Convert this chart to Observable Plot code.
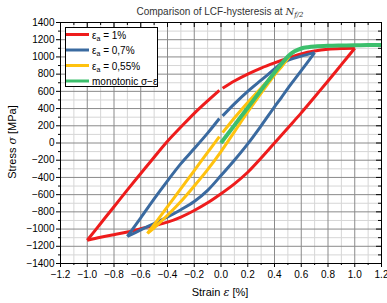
<!DOCTYPE html>
<html><head><meta charset="utf-8">
<script src="https://cdn.jsdelivr.net/npm/d3@7"></script>
<script src="https://cdn.jsdelivr.net/npm/@observablehq/plot@0.6"></script>
<style>
body{margin:0;background:#fff;}
#wrap{position:relative;width:387px;height:303px;}
</style></head><body><div id="wrap"></div>
<script>
// ---- tick values ----
const strainTicks = [-1.2,-1.0,-0.8,-0.6,-0.4,-0.2,0.0,0.2,0.4,0.6,0.8,1.0,1.2];
const strainMinor = [-1.1,-0.9,-0.7,-0.5,-0.3,-0.1,0.1,0.3,0.5,0.7,0.9,1.1];
const stressTicks = [-1400,-1200,-1000,-800,-600,-400,-200,0,200,400,600,800,1000,1200,1400];
const stressMinor = [-1300,-1100,-900,-700,-500,-300,-100,100,300,500,700,900,1100,1300];

// ---- series: eps_a = 1% ----
const red1DownStrain = [1.0,0.9,0.8,0.7,0.6,0.5,0.4,0.3,0.2,0.1,0.0,-0.1,-0.2,-0.3,-0.4,-0.5,-0.6,-0.7,-0.8,-0.9,-1.0];
const red1DownStress = [1100,910,720,535,350,175,0,-175,-340,-475,-590,-695,-784,-860,-920,-960,-995,-1035,-1065,-1095,-1130];
const red1UpStrain = [-1.0,-0.9,-0.8,-0.7,-0.6,-0.5,-0.4,-0.3,-0.2,-0.1,-0.012,0.0,0.012,0.1,0.2,0.3,0.4,0.5,0.6,0.7,0.8,0.9,1.0];
const red1UpStress = [-1130,-935,-740,-545,-355,-165,20,185,345,490,612,null,635,720,800,870,930,985,1035,1068,1088,1097,1100];

// ---- series: eps_a = 0,7% ----
const blueDownStrain = [0.7,0.6,0.5,0.45,0.4,0.3,0.2,0.1,0.0,-0.1,-0.2,-0.3,-0.4,-0.5,-0.6,-0.7];
const blueDownStress = [1050,840,635,525,420,200,-10,-200,-378,-550,-680,-775,-860,-935,-1010,-1085];
const blueUpStrain = [-0.7,-0.6,-0.5,-0.4,-0.3,-0.2,-0.1,-0.012,0.0,0.012,0.1,0.2,0.3,0.4,0.45,0.5,0.6,0.7];
const blueUpStress = [-1085,-870,-650,-440,-240,-65,115,285,null,315,455,600,730,860,925,960,1010,1050];

// ---- series: eps_a = 0,55% ----
const yelDownStrain = [0.51,0.4,0.3,0.2,0.1,0.0,-0.1,-0.2,-0.3,-0.4,-0.5,-0.55];
const yelDownStress = [1005,790,580,360,130,-100,-310,-500,-680,-840,-985,-1050];
const yelUpStrain = [-0.55,-0.5,-0.4,-0.3,-0.2,-0.1,-0.012,0.0,0.012,0.1,0.2,0.3,0.4,0.45,0.51];
const yelUpStress = [-1050,-950,-740,-530,-320,-110,75,null,120,290,470,640,800,880,1005];

// ---- monotonic ----
const monoStrain = [0,0.1,0.2,0.3,0.4,0.45,0.5,0.55,0.6,0.65,0.7,0.8,0.9,1.0,1.1,1.2];
const monoStress = [0,205,410,615,820,915,1005,1065,1098,1113,1121,1129,1133,1136,1138,1140];

const colors = {red:"#ee1c1c", blue:"#3a6aa0", yellow:"#ffc20e", green:"#3cbf6c"};

function rows(xs, ys, key){ return xs.map((x,i)=>({x, y: ys[i], key})); }
const redData = [...rows(red1DownStrain, red1DownStress, "d"), ...rows(red1UpStrain, red1UpStress, "u")];
const blueData = [...rows(blueDownStrain, blueDownStress, "d"), ...rows(blueUpStrain, blueUpStress, "u")];
const yelData = [...rows(yelDownStrain, yelDownStress, "d"), ...rows(yelUpStrain, yelUpStress, "u")];
const monoData = rows(monoStrain, monoStress, "m");

const W = 387, H = 303, mL = 60, mR = 6, mT = 22, mB = 40;
const pW = W - mL - mR, pH = H - mT - mB;
const font = "Liberation Sans, Arial, Helvetica, sans-serif";
const blank = () => "";

const lineOpts = (c, w) => ({x:"x", y:"y", z:"key", stroke:c, strokeWidth:w, curve:"catmull-rom", strokeLinecap:"butt"});

const chart = Plot.plot({
  width: W, height: H, marginLeft: mL, marginRight: mR, marginTop: mT, marginBottom: mB,
  style: {fontFamily: font, fontSize: "10px", color: "#000", background: "#fff"},
  x: {domain: [-1.2, 1.2]},
  y: {domain: [-1400, 1400]},
  marks: [
    Plot.ruleX(strainMinor, {stroke: "#d6d6d6", strokeWidth: 1}),
    Plot.ruleY(stressMinor, {stroke: "#d6d6d6", strokeWidth: 1}),
    Plot.ruleX(strainTicks, {stroke: "#8a8a8a", strokeWidth: 1}),
    Plot.ruleY(stressTicks, {stroke: "#8a8a8a", strokeWidth: 1}),
    Plot.line(redData, lineOpts(colors.red, 3)),
    Plot.line(blueData, lineOpts(colors.blue, 3)),
    Plot.line(yelData, lineOpts(colors.yellow, 3)),
    Plot.line(monoData, lineOpts(colors.green, 4)),
    Plot.frame({stroke: "#000", strokeWidth: 1}),
    // top and right inward ticks
    Plot.tickX(strainTicks, {x: d => d, stroke: "#000", insetBottom: pH - 5}),
    Plot.tickX(strainMinor, {x: d => d, stroke: "#000", insetBottom: pH - 3}),
    Plot.tickY(stressTicks, {y: d => d, stroke: "#000", insetLeft: pW - 5}),
    Plot.tickY(stressMinor, {y: d => d, stroke: "#000", insetLeft: pW - 3}),
    // bottom / left axes
    Plot.axisX(strainTicks, {tickFormat: d3.format(".1f"), tickSize: 4, tickPadding: 3, label: null, fontSize: 10}),
    Plot.axisX(strainMinor, {tickFormat: blank, tickSize: 2, label: null}),
    Plot.axisY(stressTicks, {tickFormat: d3.format("d"), tickSize: 4, tickPadding: 2, label: null, fontSize: 10}),
    Plot.axisY(stressMinor, {tickFormat: blank, tickSize: 2, label: null})
  ]
});
document.getElementById("wrap").appendChild(chart);

const svg = d3.select(chart);
// Title
const t = svg.append("text").attr("x", 220).attr("y", 15).attr("text-anchor", "middle")
  .attr("font-family", font).attr("font-size", 10).attr("fill", "#333");
t.append("tspan").text("Comparison of LCF-hysteresis at ");
t.append("tspan").attr("font-family", "DejaVu Serif, Liberation Serif, serif").attr("font-style", "italic").text("N");
t.append("tspan").attr("font-family", "DejaVu Serif, Liberation Serif, serif").attr("font-style", "italic")
  .attr("font-size", 7).attr("dy", 2).text("f/2");

// Axis labels
const xl = svg.append("text").attr("x", 220).attr("y", 296).attr("text-anchor", "middle")
  .attr("font-family", font).attr("font-size", 11).attr("fill", "#000");
xl.append("tspan").text("Strain ");
xl.append("tspan").attr("font-style", "italic").attr("font-family", "DejaVu Serif, serif").text("ε");
xl.append("tspan").text(" [%]");

const yl = svg.append("text").attr("transform", "translate(16,142) rotate(-90)").attr("text-anchor", "middle")
  .attr("font-family", font).attr("font-size", 11).attr("fill", "#000");
yl.append("tspan").text("Stress ");
yl.append("tspan").attr("font-style", "italic").attr("font-family", "DejaVu Serif, serif").text("σ");
yl.append("tspan").text(" [MPa]");

// Legend
const lg = svg.append("g");
lg.append("rect").attr("x", 65.5).attr("y", 27.5).attr("width", 92).attr("height", 59)
  .attr("fill", "#fff").attr("stroke", "#000").attr("stroke-width", 1);
const entries = [
  {c: colors.red, t: ["ε", "a", " = 1%"]},
  {c: colors.blue, t: ["ε", "a", " = 0,7%"]},
  {c: colors.yellow, t: ["ε", "a", " = 0,55%"]},
  {c: colors.green, t: ["monotonic σ−ε"]}
];
entries.forEach((e, i) => {
  const y = 34.5 + i * 15.5;
  lg.append("line").attr("x1", 66).attr("x2", 89).attr("y1", y).attr("y2", y)
    .attr("stroke", e.c).attr("stroke-width", 3);
  const tx = lg.append("text").attr("x", 92).attr("y", y + 4).attr("text-anchor", "start")
    .attr("font-family", font).attr("font-size", 10).attr("fill", "#000");
  if (e.t.length === 3) {
    tx.append("tspan").text(e.t[0]);
    tx.append("tspan").attr("font-size", 7).attr("dy", 2).text(e.t[1]);
    tx.append("tspan").attr("dy", -2).text(e.t[2]);
  } else {
    tx.text(e.t[0]);
  }
});
</script></body></html>
